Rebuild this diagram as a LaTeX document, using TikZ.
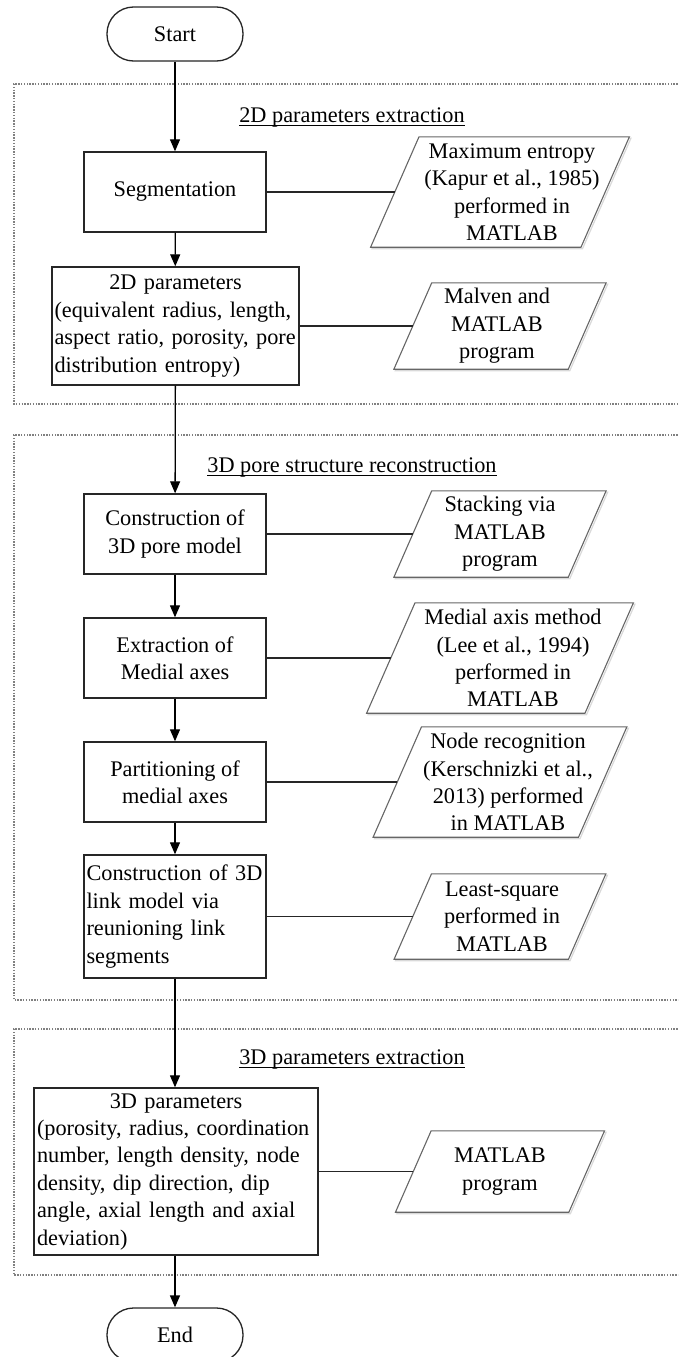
\documentclass[tikz,border=0pt]{standalone}
\usepackage{fontspec}
\setmainfont{Liberation Serif}
\usetikzlibrary{arrows.meta,calc}
\newcommand{\myul}[1]{\setbox0=\hbox{#1}\rlap{\rule[-3.5pt]{\wd0}{1pt}}\box0}
\newcommand{\mypara}[7]{%
  \node[minimum width=#4pt, minimum height=#5pt] (#1) at (#2,#3) {};
  \draw[pshadow] ([shift={(-0.22*#5pt+1.5pt,-1.5pt)}]#1.south west) -- ([shift={(-0.22*#5pt+1.5pt,-1.5pt)}]#1.south east) -- ([shift={(0.22*#5pt+1.5pt,-1.5pt)}]#1.north east) -- ([shift={(0.22*#5pt+1.5pt,-1.5pt)}]#1.north west) -- cycle;
  \draw[pline] ([xshift=-0.22*#5pt]#1.south west) -- ([xshift=-0.22*#5pt]#1.south east) -- ([xshift=0.22*#5pt]#1.north east) -- ([xshift=0.22*#5pt]#1.north west) -- cycle;
  \node[align=center] (#1t) at ([xshift=#6pt]#1.center) {#7};
}
\begin{document}
\begin{tikzpicture}[x=1pt,y=-1pt,
  every node/.style={font=\fontsize{22.3}{27.4}\selectfont, inner sep=0pt},
  box/.style={draw=black!85, line width=1.4pt, align=center, minimum width=182pt, minimum height=80pt, fill=white},
  term/.style={draw=black!85, line width=1.3pt, rounded corners=26.5pt, minimum width=136pt, minimum height=54pt, fill=white},
  pline/.style={draw=black!60, line width=1.1pt, fill=white},
  pshadow/.style={draw=black!15, line width=1.2pt},
  flow/.style={line width=1.3pt, -{Triangle[length=12pt,width=10pt]}},
  link/.style={line width=1.3pt, draw=black!85},
  zone/.style={draw=black!50, line width=1.3pt, dash pattern=on 1.4pt off 1.4pt}
]
\useasboundingbox (0,0) rectangle (678,1357);
\clip (0,0) rectangle (678,1357);

% zones
\draw[zone] (700,84) -- (14,84) -- (14,404) -- (700,404);
\draw[zone] (700,435) -- (14,435) -- (14,1000) -- (700,1000);
\draw[zone] (700,1029) -- (14,1029) -- (14,1275) -- (700,1275);

% titles
\node (t1) at (352,117) {\myul{2D parameters extraction}};
\node (t2) at (352,467) {\myul{3D pore structure reconstruction}};
\node (t3) at (352,1059) {\myul{3D parameters extraction}};

% terminals
\node[term] (start) at (175,34) {Start};
\node[term] (end) at (175,1335) {End};

% process boxes
\node[box] (b1) at (175,192) {Segmentation};
\node[box, minimum width=247pt, minimum height=118pt, text width=242pt, align=left] (b2) at (175.5,326)
  {\makebox[\linewidth][c]{2D parameters}\\(equivalent radius, length,\\aspect ratio, porosity, pore\\distribution entropy)};
\node[box] (b3) at (175,534) {Construction of\\3D pore model};
\node[box] (b4) at (175,658) {Extraction of\\Medial axes};
\node[box] (b5) at (175,782) {Partitioning of\\medial axes};
\node[box, minimum height=123pt, text width=177pt, align=left] (b6) at (175,916.5)
  {Construction of 3D\\link model via\\reunioning link\\segments};
\node[box, minimum width=284pt, minimum height=167pt, text width=278pt, align=left] (b7) at (176,1171.5)
  {\makebox[\linewidth][c]{3D parameters}\\(porosity, radius, coordination\\number, length density, node\\density, dip direction, dip\\angle, axial length and axial\\deviation)};

% parallelograms
\mypara{p1}{500}{192}{210}{110}{12}{Maximum entropy\\(Kapur et al., 1985)\\performed in\\MATLAB}
\mypara{p2}{500}{326}{174}{86}{-3}{Malven and\\MATLAB\\program}
\mypara{p3}{500}{534}{174}{86}{0}{Stacking via\\MATLAB\\program}
\mypara{p4}{500}{658}{218}{110}{13}{Medial axis method\\(Lee et al., 1994)\\performed in\\MATLAB}
\mypara{p5}{500}{782}{205}{110}{8}{Node recognition\\(Kerschnizki et al.,\\2013) performed\\in MATLAB}
\mypara{p6}{500}{916.5}{174}{85}{2}{Least-square\\performed in\\MATLAB}
\mypara{p7}{500}{1171.5}{173}{81}{0}{MATLAB\\program}

% flow
\draw[flow] (start) -- (b1);
\draw[flow] (b1) -- (b2);
\draw[flow] (b2) -- (b3);
\draw[flow] (b3) -- (b4);
\draw[flow] (b4) -- (b5);
\draw[flow] (b5) -- (b6);
\draw[flow] (b6.south) -- (b7.north -| b6.south);
\draw[flow] (b7.south -| end.north) -- (end);

% links
\draw[link] (b1.east) -- (p1.west);
\draw[link] (b2.east |- p2.west) -- (p2.west);
\draw[link] (b3.east) -- (p3.west);
\draw[link] (b4.east) -- (p4.west);
\draw[link] (b5.east) -- (p5.west);
\draw[link] (b6.east) -- (p6.west);
\draw[link] (b7.east) -- (p7.west);
\end{tikzpicture}
\end{document}
